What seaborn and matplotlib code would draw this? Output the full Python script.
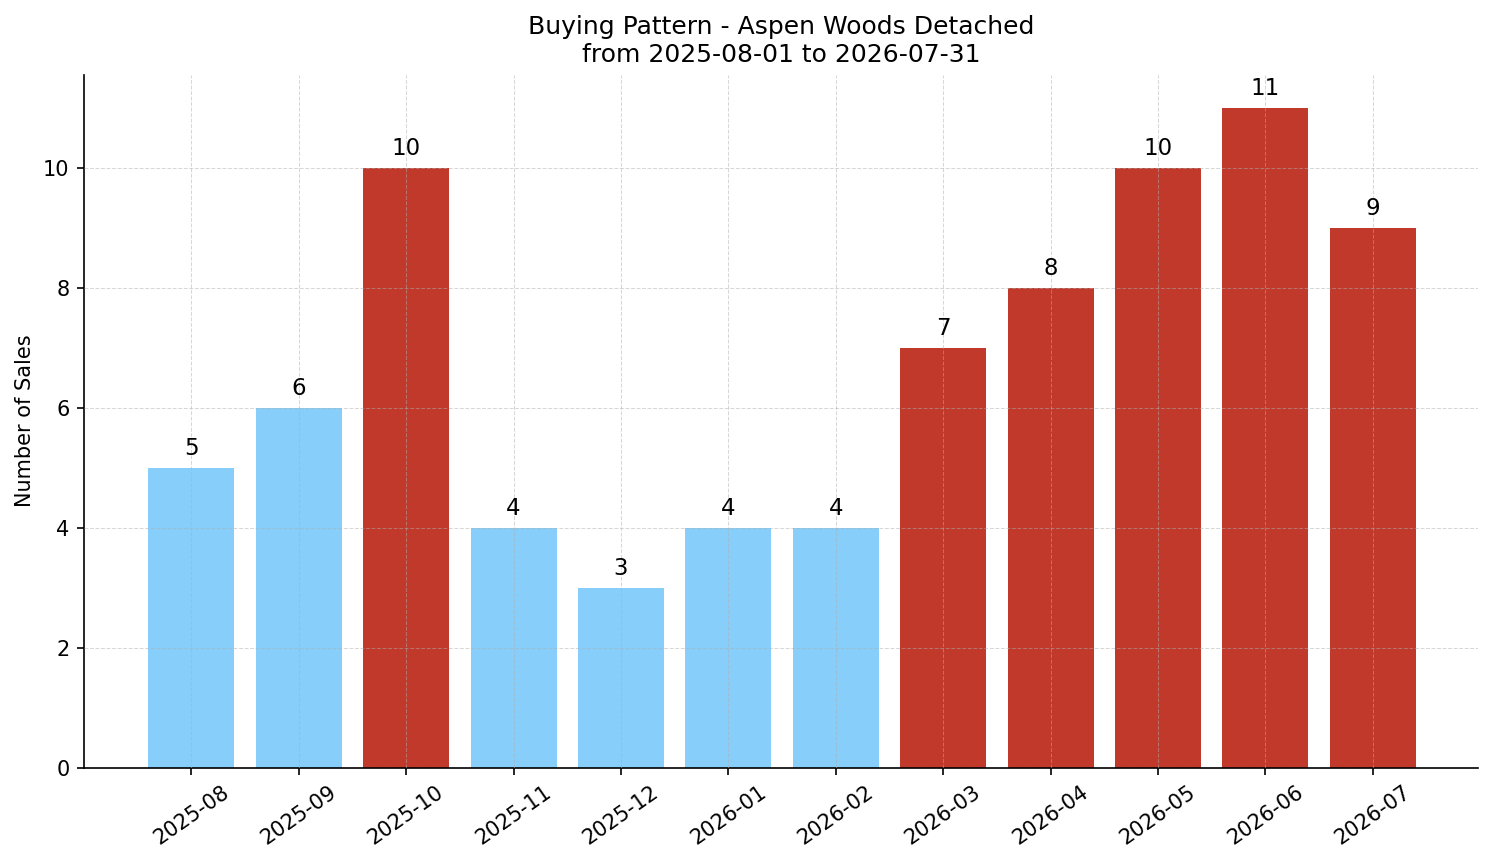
import matplotlib
matplotlib.use('Agg')
import matplotlib.pyplot as plt
import seaborn as sns
import pandas as pd

# data
months = ['2025-08', '2025-09', '2025-10', '2025-11', '2025-12', '2026-01',
          '2026-02', '2026-03', '2026-04', '2026-05', '2026-06', '2026-07']
sales = [5, 6, 10, 4, 3, 4, 4, 7, 8, 10, 11, 9]
hot = [False, False, True, False, False, False, False, True, True, True, True, True]

df = pd.DataFrame({'Month': months, 'Sales': sales, 'Hot': hot})

plt.rcParams['font.family'] = ['DejaVu Sans']

fig, ax = plt.subplots(figsize=(9.96, 5.7534), dpi=150)
palette = ['#c0392b' if h else '#87cefa' for h in hot]
sns.barplot(data=df, x='Month', y='Sales', hue='Month', palette=palette,
            width=0.8, saturation=1, legend=False, linewidth=0,
            edgecolor='none', ax=ax)

# value labels above bars
for i, v in enumerate(sales):
    ax.annotate(str(v), (i, v), xytext=(0, 3.5), textcoords='offset points',
                ha='center', va='bottom', fontsize=11)

ax.set_xlim(-1.0, 11.98)
ax.set_ylim(0, max(sales) * 1.05)
ax.set_axisbelow(False)
ax.grid(True, linestyle='--', linewidth=0.5, alpha=0.5)
ax.set_title('Buying Pattern - Aspen Woods Detached\nfrom 2025-08-01 to 2026-07-31',
             fontsize=12)
ax.set_xlabel('')
ax.set_ylabel('Number of Sales')
ax.tick_params(axis='x', rotation=35)
sns.despine(ax=ax)

plt.subplots_adjust(left=0.0562, right=0.9893, top=0.9135, bottom=0.1105)
fig.savefig('out.png', dpi=150)
